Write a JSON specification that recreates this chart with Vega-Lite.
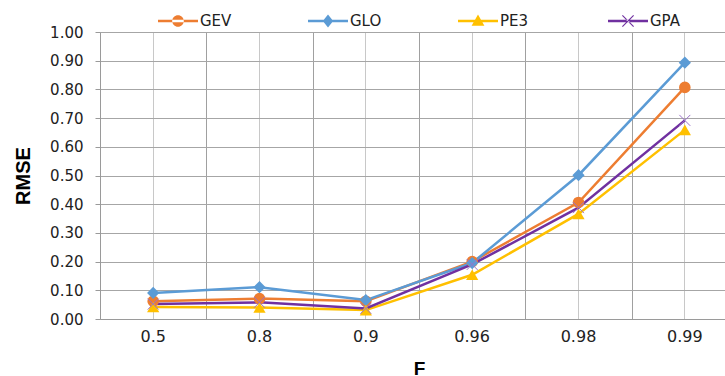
{
  "$schema": "https://vega.github.io/schema/vega-lite/v6.json",
  "width": 638,
  "height": 287,
  "autosize": {"type": "none"},
  "padding": {"left": 100, "top": 32, "right": 0, "bottom": 57},
  "background": "white",
  "config": {
    "view": {"stroke": null},
    "font": "DejaVu Sans"
  },
  "data": {
    "values": [
      {"F": "0.5", "series": "GEV", "RMSE": 0.062},
      {"F": "0.8", "series": "GEV", "RMSE": 0.071},
      {"F": "0.9", "series": "GEV", "RMSE": 0.062},
      {"F": "0.96", "series": "GEV", "RMSE": 0.2},
      {"F": "0.98", "series": "GEV", "RMSE": 0.406},
      {"F": "0.99", "series": "GEV", "RMSE": 0.807},
      {"F": "0.5", "series": "GLO", "RMSE": 0.091},
      {"F": "0.8", "series": "GLO", "RMSE": 0.111},
      {"F": "0.9", "series": "GLO", "RMSE": 0.066},
      {"F": "0.96", "series": "GLO", "RMSE": 0.195},
      {"F": "0.98", "series": "GLO", "RMSE": 0.501},
      {"F": "0.99", "series": "GLO", "RMSE": 0.893},
      {"F": "0.5", "series": "PE3", "RMSE": 0.042},
      {"F": "0.8", "series": "PE3", "RMSE": 0.04},
      {"F": "0.9", "series": "PE3", "RMSE": 0.031},
      {"F": "0.96", "series": "PE3", "RMSE": 0.154},
      {"F": "0.98", "series": "PE3", "RMSE": 0.366},
      {"F": "0.99", "series": "PE3", "RMSE": 0.659},
      {"F": "0.5", "series": "GPA", "RMSE": 0.052},
      {"F": "0.8", "series": "GPA", "RMSE": 0.058},
      {"F": "0.9", "series": "GPA", "RMSE": 0.037},
      {"F": "0.96", "series": "GPA", "RMSE": 0.19},
      {"F": "0.98", "series": "GPA", "RMSE": 0.388},
      {"F": "0.99", "series": "GPA", "RMSE": 0.692}
    ]
  },
  "resolve": {"axis": {"x": "independent"}},
  "encoding": {
    "y": {
      "field": "RMSE", "type": "quantitative",
      "scale": {"domain": [0, 1], "nice": false},
      "axis": {
        "title": "RMSE",
        "titleFont": "Liberation Sans",
        "titleFontSize": 20,
        "titleFontWeight": "bold",
        "titleColor": "#000000",
        "titlePadding": 16,
        "values": [0, 0.1, 0.2, 0.3, 0.4, 0.5, 0.6, 0.7, 0.8, 0.9, 1.0],
        "format": ".2f",
        "labelOverlap": false,
        "labelFont": "DejaVu Sans",
        "labelFontSize": 15,
        "labelColor": "#222222",
        "labelPadding": 12,
        "tickSize": 5,
        "tickColor": "#9a9a9a",
        "domainColor": "#9a9a9a",
        "gridColor": "#a6a6a6",
        "gridWidth": 1
      }
    }
  },
  "layer": [
    {
      "mark": {"type": "line", "strokeWidth": 2.5},
      "encoding": {
        "x": {
          "field": "F", "type": "ordinal",
          "sort": ["0.5", "0.8", "0.9", "0.96", "0.98", "0.99"],
          "scale": {"paddingInner": 0, "paddingOuter": 0},
          "axis": {
            "title": "F",
            "titleFont": "Liberation Sans",
            "titleFontSize": 19,
            "titleFontWeight": "bold",
            "titleColor": "#000000",
            "titlePadding": 15,
            "labelAngle": 0,
            "labelFont": "DejaVu Sans",
            "labelFontSize": 16,
            "labelColor": "#222222",
            "labelPadding": 9,
            "ticks": false,
            "domain": true,
            "domainColor": "#9a9a9a",
            "domainWidth": 1,
            "grid": true,
            "gridColor": "#c8c8c8",
            "gridWidth": 1,
            "tickBand": "center"
          }
        },
        "color": {
          "field": "series", "type": "nominal",
          "scale": {"domain": ["GEV", "GLO", "PE3", "GPA"], "range": ["#ED7D31", "#5B9BD5", "#FFC000", "#7030A0"]},
          "legend": {
            "title": null,
            "orient": "none",
            "legendX": 58,
            "legendY": -31,
            "direction": "horizontal",
            "columns": 4,
            "gridAlign": "all",
            "columnPadding": 76,
            "symbolSize": 1600,
            "labelFont": "DejaVu Sans",
            "labelFontSize": 15,
            "labelColor": "#222222",
            "labelOffset": 2,
            "encode": {
              "symbols": {
                "update": {
                  "shape": {"signal": "datum.value === 'GEV' ? 'M-1,-0.06L1,-0.06L1,0.06L-1,0.06ZM-0.29,0A0.29,0.29 0 1,0 0.29,0A0.29,0.29 0 1,0 -0.29,0Z' : datum.value === 'GLO' ? 'M-1,-0.06L1,-0.06L1,0.06L-1,0.06ZM0,-0.32L0.26,0L0,0.32L-0.26,0Z' : datum.value === 'PE3' ? 'M-1,-0.06L1,-0.06L1,0.06L-1,0.06ZM0,-0.32L0.32,0.24L-0.32,0.24Z' : 'M-1,-0.06L1,-0.06L1,0.06L-1,0.06ZM-0.3,-0.26L0.26,0.3L0.3,0.26L-0.26,-0.3ZM-0.3,0.26L0.26,-0.3L0.3,-0.26L-0.26,0.3Z'"},
                  "fill": {"signal": "scale('color', datum.value)"},
                  "stroke": {"value": "transparent"},
                  "strokeWidth": {"value": 0},
                  "opacity": {"value": 1}
                }
              }
            }
          }
        }
      }
    },
    {
      "transform": [{"filter": "datum.series === 'GEV'"}],
      "mark": {"type": "point", "filled": true, "shape": "circle", "size": 135, "color": "#ED7D31", "opacity": 1},
      "encoding": {
        "x": {
          "field": "F", "type": "ordinal",
          "sort": ["0.5", "0.8", "0.9", "0.96", "0.98", "0.99"],
          "axis": {
            "labels": false, "ticks": false, "domain": false, "title": null,
            "grid": true, "gridColor": "#a0a0a0", "gridWidth": 1, "tickBand": "extent"
          }
        }
      }
    },
    {
      "transform": [{"filter": "datum.series === 'GLO'"}],
      "mark": {"type": "point", "filled": true, "shape": "diamond", "size": 150, "color": "#5B9BD5", "opacity": 1},
      "encoding": {
        "x": {"field": "F", "type": "ordinal", "sort": ["0.5", "0.8", "0.9", "0.96", "0.98", "0.99"], "axis": null}
      }
    },
    {
      "transform": [{"filter": "datum.series === 'PE3'"}],
      "mark": {"type": "point", "filled": true, "shape": "triangle-up", "size": 150, "color": "#FFC000", "opacity": 1},
      "encoding": {
        "x": {"field": "F", "type": "ordinal", "sort": ["0.5", "0.8", "0.9", "0.96", "0.98", "0.99"], "axis": null}
      }
    },
    {
      "transform": [{"filter": "datum.series === 'GPA'"}],
      "mark": {"type": "point", "filled": false, "shape": "M-1,-1L1,1M-1,1L1,-1", "size": 120, "stroke": "#9B72C8", "strokeWidth": 1, "opacity": 1},
      "encoding": {
        "x": {"field": "F", "type": "ordinal", "sort": ["0.5", "0.8", "0.9", "0.96", "0.98", "0.99"], "axis": null}
      }
    }
  ]
}
